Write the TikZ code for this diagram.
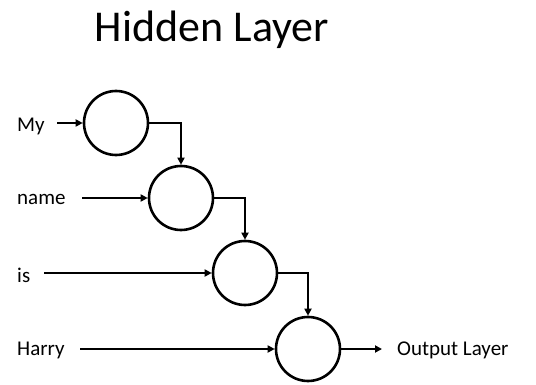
\documentclass[tikz,border=0pt]{standalone}
\usepackage{fontspec}
\setmainfont{Carlito}
\usetikzlibrary{arrows.meta}
\begin{document}
\begin{tikzpicture}[x=1pt,y=-1pt,
  neuron/.style={draw, circle, line width=2.6pt, minimum size=64pt, inner sep=0pt},
  lbl/.style={anchor=west, font=\fontsize{21}{24}\selectfont, inner sep=0pt},
  conn/.style={line width=2.3pt, -{Triangle[length=7pt,width=7pt]}}]
\useasboundingbox (0,0) rectangle (536,385);
\node[font=\fontsize{44}{50}\selectfont] (title) at (212,30) {Hidden Layer};
\node[neuron] (n1) at (116,123) {};
\node[neuron] (n2) at (181,198) {};
\node[neuron] (n3) at (245,273) {};
\node[neuron] (n4) at (308,349) {};
\node[lbl] (my) at (17,126) {My};
\node[lbl] (name) at (17,199) {name};
\node[lbl] (is) at (17,275) {is};
\node[lbl] (harry) at (17,350) {Harry};
\node[lbl] (out) at (397,350) {Output Layer};
\coordinate (s1) at (57,123);
\coordinate (s2) at (82,198);
\coordinate (s3) at (44,273);
\coordinate (s4) at (80,349);
\coordinate (e4) at (382,349);
\draw[conn] (s1) -- (n1.west);
\draw[conn] (s2) -- (n2.west);
\draw[conn] (s3) -- (n3.west);
\draw[conn] (s4) -- (n4.west);
\draw[conn] (n1.east) -| (n2.north);
\draw[conn] (n2.east) -| (n3.north);
\draw[conn] (n3.east) -| (n4.north);
\draw[conn] (n4.east) -- (e4);
\end{tikzpicture}
\end{document}
